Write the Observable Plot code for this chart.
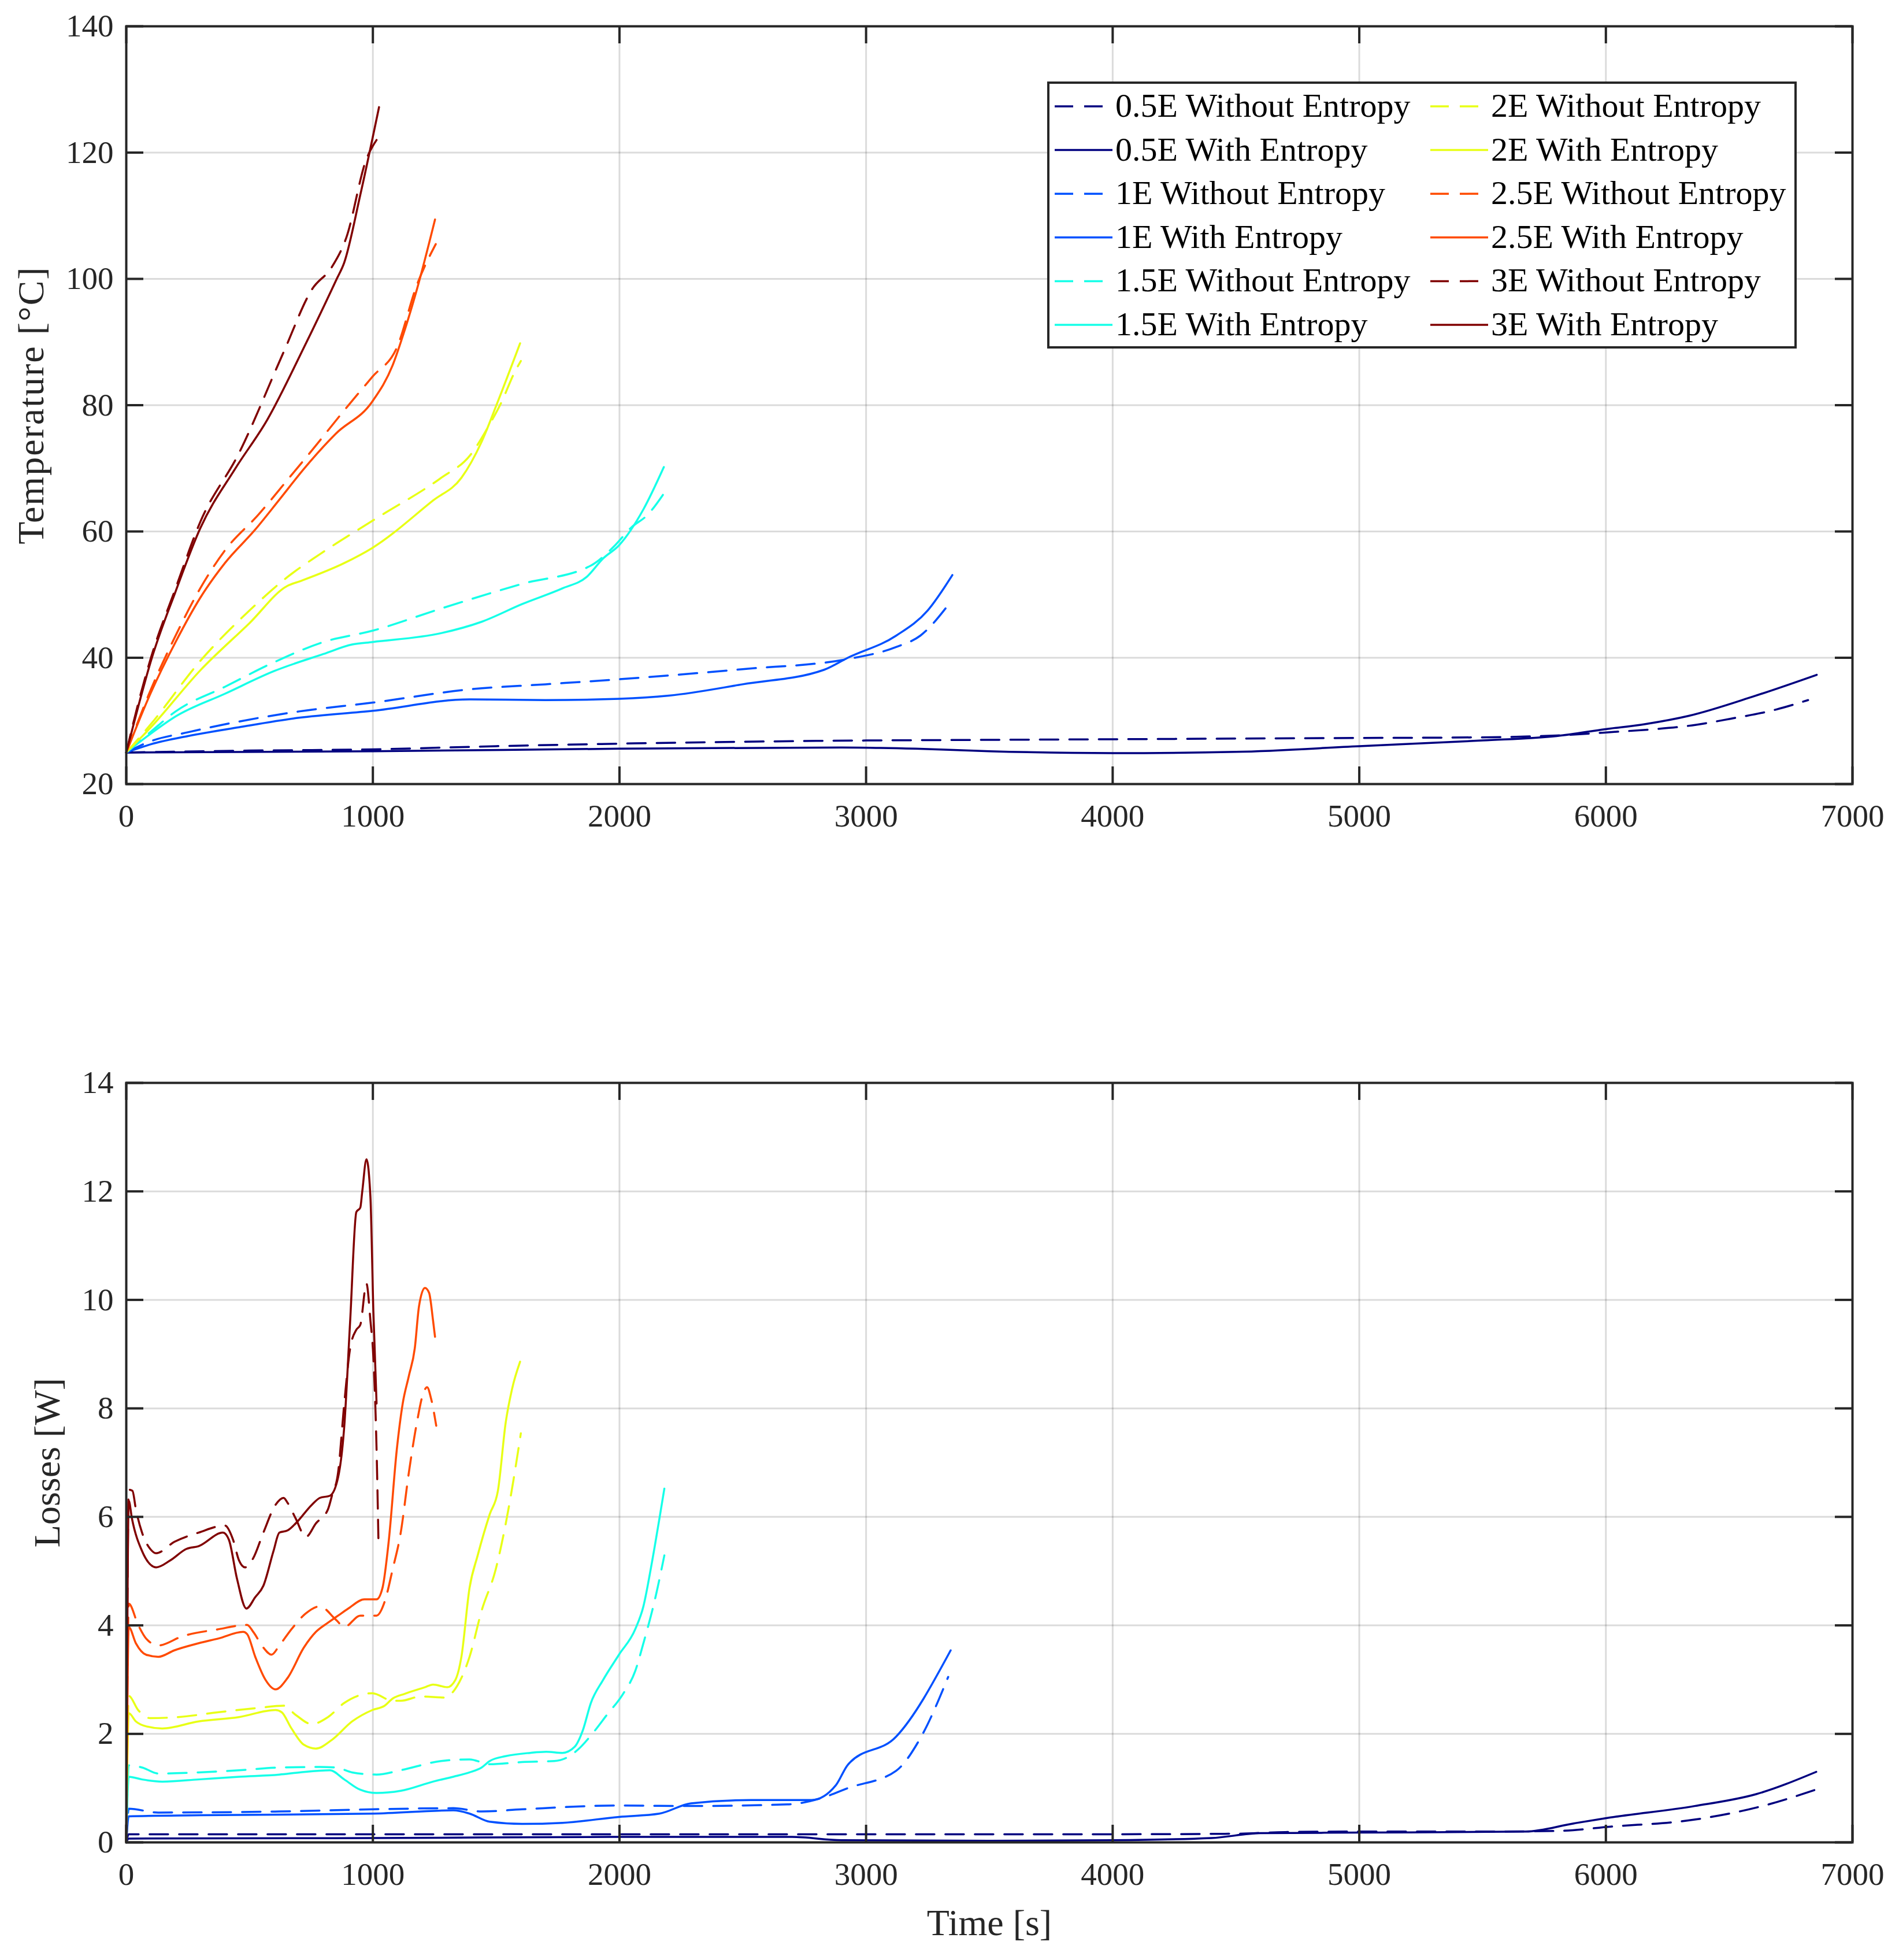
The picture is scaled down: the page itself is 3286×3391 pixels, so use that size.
<!DOCTYPE html>
<html><head><meta charset="utf-8">
<script src="https://cdn.jsdelivr.net/npm/d3@7"></script>
<script src="https://cdn.jsdelivr.net/npm/@observablehq/plot@0.6"></script>
<style>
body{margin:0;background:#fff}
#wrap{position:relative;width:3286px;height:3391px;background:#fff;font-family:"Liberation Serif",serif}
#wrap > *{position:absolute}
</style></head>
<body><div id="wrap"></div>
<script>
// ---- data: [time s, value] ----
const temp05Without = [[0,25],[500,25.3],[1000,25.5],[1500,26.0],[2000,26.4],[2500,26.7],[3000,26.9],[3500,27.0],[4000,27.1],[4500,27.2],[5000,27.3],[5500,27.4],[5800,27.7],[6050,28.3],[6200,28.7],[6350,29.3],[6500,30.3],[6690,31.8],[6820,33.3]];
const temp05With = [[0,25],[1000,25.2],[2000,25.6],[2900,25.8],[3200,25.6],[3500,25.2],[4000,24.9],[4500,25.1],[5000,26.0],[5500,26.9],[5800,27.6],[6000,28.7],[6160,29.5],[6336,30.8],[6600,33.9],[6855,37.3]];
const temp1Without = [[0,25],[100,26.8],[250,28.2],[457,29.9],[700,31.5],[1000,32.9],[1392,35.0],[1700,35.8],[2000,36.6],[2500,38.2],[2926,39.8],[3122,41.7],[3220,43.5],[3340,48.7]];
const temp1With = [[0,25],[100,26.3],[250,27.6],[457,29.0],[700,30.5],[1000,31.6],[1392,33.4],[1700,33.3],[2000,33.5],[2200,34.0],[2500,35.8],[2830,38.1],[2926,40.0],[3122,43.5],[3250,47.5],[3350,53.1]];
const temp15Without = [[0,25],[100,28.3],[200,31.5],[400,35.4],[600,39.3],[800,42.5],[1000,44.3],[1277,47.8],[1605,51.7],[1884,54.6],[1982,57.8],[2047,60.6],[2113,62.6],[2185,66.3]];
const temp15With = [[0,25],[100,28.0],[200,30.7],[400,34.3],[600,37.9],[800,40.6],[916,42.1],[1000,42.5],[1277,43.9],[1441,45.7],[1605,48.5],[1769,51.0],[1867,52.8],[1933,55.7],[1998,57.8],[2097,63.5],[2180,70.2]];
const temp2Without = [[0,25],[100,29.5],[300,39.5],[500,47.5],[654,52.8],[785,56.4],[1015,62.1],[1277,68.5],[1393,72.0],[1474,77.0],[1523,80.6],[1572,85.0],[1600,87.0]];
const temp2With = [[0,25],[100,29.0],[300,38.0],[500,45.5],[654,51.4],[703,52.1],[884,55.0],[998,57.4],[1244,64.9],[1359,68.5],[1441,74.2],[1507,80.6],[1597,89.8]];
const temp25Without = [[0,25],[100,35.0],[200,43.5],[300,51.0],[400,57.0],[539,62.8],[650,68.0],[752,72.8],[880,79.0],[998,84.5],[1097,89.1],[1179,99.1],[1255,105.5]];
const temp25With = [[0,25],[100,34.5],[200,42.5],[300,49.5],[400,55.0],[523,60.3],[620,65.0],[720,69.9],[850,75.5],[998,80.6],[1080,86.3],[1130,92.0],[1179,98.4],[1252,109.4]];
const temp3Without = [[0,25],[50,33.0],[100,40.0],[200,51.0],[300,61.5],[457,72.4],[638,88.4],[754,98.4],[834,101.9],[892,106.5],[974,119.0],[1015,122.0]];
const temp3With = [[0,25],[50,32.5],[100,39.5],[200,50.5],[300,60.5],[441,69.9],[572,77.7],[720,89.1],[851,99.8],[884,102.6],[949,113.3],[1025,127.2]];

const loss05Without = [[0,0],[10,0.15],[1000,0.15],[2000,0.15],[3000,0.15],[4000,0.15],[4500,0.16],[4700,0.19],[5000,0.2],[5500,0.2],[5800,0.21],[6020,0.29],[6360,0.42],[6660,0.7],[6850,0.97]];
const loss05With = [[0,0],[10,0.07],[1000,0.08],[2000,0.1],[2700,0.1],[2900,0.04],[3500,0.03],[4000,0.04],[4400,0.08],[4600,0.17],[5000,0.18],[5675,0.2],[5870,0.35],[6020,0.46],[6360,0.67],[6610,0.89],[6853,1.3]];
const loss1Without = [[0,0],[10,0.62],[130,0.55],[621,0.57],[1000,0.61],[1326,0.63],[1441,0.57],[1605,0.61],[2000,0.68],[2288,0.67],[2681,0.7],[2828,0.83],[2926,1.0],[3122,1.32],[3220,1.92],[3333,3.05]];
const loss1With = [[0,0],[10,0.48],[300,0.5],[1000,0.53],[1326,0.59],[1392,0.53],[1474,0.38],[1605,0.34],[1769,0.36],[1998,0.47],[2162,0.53],[2290,0.72],[2533,0.78],[2779,0.78],[2877,1.05],[2926,1.43],[3122,1.95],[3343,3.54]];
const loss15Without = [[0,0],[10,1.42],[64,1.38],[130,1.27],[293,1.29],[457,1.33],[621,1.38],[785,1.39],[851,1.38],[916,1.29],[1015,1.25],[1113,1.33],[1277,1.5],[1392,1.53],[1474,1.44],[1605,1.48],[1736,1.5],[1785,1.56],[1834,1.72],[1884,1.97],[1949,2.35],[2015,2.74],[2064,3.16],[2097,3.67],[2146,4.52],[2182,5.29]];
const loss15With = [[0,0],[10,1.21],[64,1.16],[146,1.12],[293,1.16],[457,1.21],[621,1.25],[703,1.29],[826,1.33],[884,1.16],[949,0.97],[1015,0.91],[1113,0.95],[1244,1.12],[1326,1.21],[1392,1.29],[1441,1.38],[1474,1.5],[1539,1.59],[1638,1.65],[1703,1.67],[1769,1.65],[1818,1.76],[1851,2.06],[1884,2.57],[1933,2.99],[1998,3.46],[2064,3.93],[2097,4.35],[2130,5.12],[2162,5.97],[2182,6.52]];
const loss2Without = [[0,0],[10,2.7],[48,2.44],[97,2.29],[211,2.31],[375,2.4],[539,2.48],[638,2.52],[687,2.35],[752,2.18],[818,2.31],[884,2.57],[998,2.75],[1080,2.61],[1113,2.61],[1195,2.69],[1293,2.67],[1326,2.78],[1359,3.03],[1392,3.42],[1441,4.27],[1498,5.03],[1539,5.88],[1572,6.73],[1600,7.54]];
const loss2With = [[0,0],[10,2.38],[39,2.23],[80,2.14],[146,2.1],[293,2.23],[457,2.31],[605,2.44],[630,2.4],[670,2.1],[720,1.8],[769,1.73],[834,1.89],[916,2.23],[998,2.44],[1048,2.52],[1080,2.65],[1130,2.74],[1211,2.86],[1244,2.91],[1302,2.86],[1334,2.99],[1359,3.42],[1392,4.69],[1425,5.29],[1474,6.05],[1507,6.48],[1539,7.75],[1564,8.35],[1597,8.86]];
const loss25Without = [[0,0],[10,4.4],[48,4.01],[80,3.76],[130,3.63],[228,3.8],[375,3.93],[490,4.01],[515,3.88],[556,3.59],[589,3.46],[621,3.63],[670,3.93],[728,4.22],[785,4.35],[851,4.1],[884,3.97],[949,4.18],[1015,4.18],[1048,4.44],[1080,5.03],[1113,5.71],[1146,6.82],[1179,7.75],[1203,8.26],[1220,8.39],[1236,8.18],[1257,7.68]];
const loss25With = [[0,0],[10,3.97],[39,3.67],[80,3.46],[130,3.42],[195,3.54],[293,3.67],[375,3.76],[474,3.88],[490,3.84],[523,3.42],[564,3.0],[605,2.82],[654,3.03],[720,3.59],[769,3.88],[818,4.05],[859,4.18],[900,4.31],[966,4.48],[1015,4.48],[1039,4.69],[1064,5.54],[1097,7.24],[1121,8.09],[1146,8.6],[1170,9.11],[1187,9.88],[1211,10.22],[1228,10.13],[1244,9.62],[1252,9.32]];
const loss3Without = [[0,0],[10,6.5],[25,6.48],[39,6.14],[64,5.71],[97,5.41],[121,5.33],[195,5.54],[293,5.71],[400,5.84],[433,5.58],[457,5.2],[482,5.07],[515,5.24],[556,5.71],[605,6.22],[638,6.35],[654,6.26],[687,5.97],[728,5.63],[769,5.88],[818,6.14],[834,6.39],[859,6.82],[884,8.09],[908,9.11],[933,9.45],[949,9.54],[974,10.3],[990,9.62],[1002,8.94],[1015,7.24],[1023,5.46]];
const loss3With = [[0,0],[10,6.3],[23,5.97],[64,5.37],[121,5.07],[179,5.2],[244,5.41],[293,5.46],[392,5.71],[416,5.58],[449,4.86],[487,4.31],[523,4.52],[556,4.73],[597,5.37],[621,5.71],[654,5.75],[687,5.88],[752,6.22],[785,6.35],[826,6.39],[859,6.73],[884,7.67],[908,9.62],[933,11.62],[949,11.7],[957,12.0],[974,12.59],[990,11.9],[1002,9.79],[1015,8.09]];

const levels = ["0.5E","1E","1.5E","2E","2.5E","3E"];
const levelColors = ["#00007f","#0050ff","#15ffe8","#e8ff15","#ff4a00","#800000"];
const variants = ["Without Entropy","With Entropy"];
const tempSeries = [[temp05Without,temp05With],[temp1Without,temp1With],[temp15Without,temp15With],[temp2Without,temp2With],[temp25Without,temp25With],[temp3Without,temp3With]];
const lossSeries = [[loss05Without,loss05With],[loss1Without,loss1With],[loss15Without,loss15With],[loss2Without,loss2With],[loss25Without,loss25With],[loss3Without,loss3With]];
const xTicks = [0,1000,2000,3000,4000,5000,6000,7000];
const tempTicks = [20,40,60,80,100,120,140];
const lossTicks = [0,2,4,6,8,10,12,14];

// ---- build tables ----
const names = [], colors = [];
levels.forEach((l,i)=>variants.forEach(v=>{names.push(`${l} ${v}`); colors.push(levelColors[i]);}));
function table(series){
  const rows=[];
  series.forEach((pair,i)=>pair.forEach((arr,j)=>arr.forEach(([t,v])=>rows.push({t,v,series:`${levels[i]} ${variants[j]}`,dashed:j===0}))));
  return rows;
}
const tempData = table(tempSeries), lossData = table(lossSeries);

const W=3286, mL=218, mR=81, INK="#262626", FONT='"Liberation Serif", serif';
function chart({data, yDomain, yTicks, height, marginTop, marginBottom, yLabel, yLabelDx, xLabel}){
  const innerH = height - marginTop - marginBottom, innerW = W - mL - mR, tl = 30;
  const marks = [
    Plot.gridX(xTicks, {stroke:"#000", strokeOpacity:0.14, strokeWidth:3}),
    Plot.gridY(yTicks, {stroke:"#000", strokeOpacity:0.14, strokeWidth:3}),
    Plot.line(data.filter(d=>d.dashed), {x:"t", y:"v", z:"series", stroke:"series", strokeWidth:3.5, strokeDasharray:"32,19", curve:"monotone-x"}),
    Plot.line(data.filter(d=>!d.dashed), {x:"t", y:"v", z:"series", stroke:"series", strokeWidth:3.5, curve:"monotone-x"}),
    Plot.tickX(xTicks, {x:d=>d, insetTop: innerH - tl, stroke:INK, strokeWidth:4}),
    Plot.tickX(xTicks, {x:d=>d, insetBottom: innerH - tl, stroke:INK, strokeWidth:4}),
    Plot.tickY(yTicks, {y:d=>d, insetLeft: innerW - tl, stroke:INK, strokeWidth:4}),
    Plot.tickY(yTicks, {y:d=>d, insetRight: innerW - tl, stroke:INK, strokeWidth:4}),
    Plot.frame({stroke:INK, strokeWidth:4}),
    Plot.axisX(xTicks, {tickSize:0, tickPadding:34, fontSize:55, label:null, tickFormat:d3.format("d"), fill:INK}),
    Plot.axisY(yTicks, {tickSize:0, tickPadding:22, fontSize:55, label:null, tickFormat:d3.format("d"), fill:INK}),
    Plot.text([yLabel], {text:d=>d, frameAnchor:"left", textAnchor:"middle", dx:yLabelDx, rotate:-90, fontSize:64, fill:INK, className:"ylab"})
  ];
  if (xLabel) marks.push(Plot.text([xLabel], {text:d=>d, frameAnchor:"bottom", dy:160, fontSize:64, fill:INK}));
  return Plot.plot({
    width:W, height, marginLeft:mL, marginRight:mR, marginTop, marginBottom,
    style:{fontFamily:FONT, fontSize:"55px", color:INK, background:"#fff", overflow:"visible"},
    x:{domain:[0,7000]},
    y:{domain:yDomain},
    color:{domain:names, range:colors},
    marks
  });
}

const wrap = document.getElementById("wrap");
const top1 = chart({data:tempData, yDomain:[20,140], yTicks:tempTicks, height:1500, marginTop:45, marginBottom:144, yLabel:"Temperature [°C]", yLabelDx:-164});
top1.style.left="0px"; top1.style.top="0px";
d3.select(top1).selectAll(".ylab text").style("letter-spacing","2px");
wrap.appendChild(top1);
const bot = chart({data:lossData, yDomain:[0,14], yTicks:lossTicks, height:1591, marginTop:73, marginBottom:204, yLabel:"Losses [W]", yLabelDx:-136, xLabel:"Time [s]"});
bot.style.left="0px"; bot.style.top="1800px";
wrap.appendChild(bot);

// ---- legend overlay (inside top axes) ----
const LW=1297, LH=462;
const leg = d3.create("svg").attr("width",LW).attr("height",LH)
  .style("left","1812px").style("top","141px").style("position","absolute");
leg.append("rect").attr("x",2).attr("y",2).attr("width",LW-4).attr("height",LH-4)
  .attr("fill","#fff").attr("stroke",INK).attr("stroke-width",4);
names.forEach((n,k)=>{
  const col = Math.floor(k/6), row = k%6;
  const x0 = col ? 663 : 13, y = 43 + row*75.6;
  leg.append("line").attr("x1",x0).attr("x2",x0+100).attr("y1",y).attr("y2",y)
    .attr("stroke",colors[k]).attr("stroke-width",3.5)
    .attr("stroke-dasharray", k%2===0 ? "32,19" : null);
  leg.append("text").attr("x", x0+105).attr("y", y+18).text(n)
    .attr("font-family",FONT).attr("font-size",58).attr("fill","#000");
});
wrap.appendChild(leg.node());
</script>
</body></html>
